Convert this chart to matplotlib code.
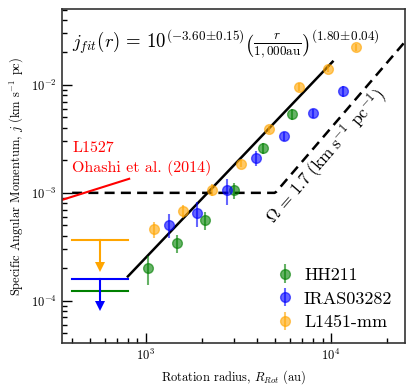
import numpy as np
import matplotlib
matplotlib.use('Agg')
import matplotlib.pyplot as plt

plt.rcParams['font.family'] = 'serif'
plt.rcParams['font.serif'] = ['cmr10', 'DejaVu Serif']
plt.rcParams['mathtext.fontset'] = 'cm'
plt.rcParams['axes.formatter.use_mathtext'] = True
plt.rcParams['axes.unicode_minus'] = False

# HH211
hh_r = [1025, 1472, 2085, 2995, 4285, 6150]
hh_j = [2.0e-4, 3.42e-4, 5.58e-4, 1.06e-3, 2.6e-3, 5.36e-3]
hh_err = [0.6e-4, 0.65e-4, 1.1e-4, 1.8e-4, 0.3e-3, 0.6e-3]

# IRAS03282
ir_r = [1330, 1900, 2730, 3935, 5600, 8020, 11560]
ir_j = [5.09e-4, 6.53e-4, 1.06e-3, 2.11e-3, 3.35e-3, 5.47e-3, 8.8e-3]
ir_err = [1.3e-4, 1.7e-4, 2.8e-4, 0.35e-3, 0.3e-3, 0.5e-3, 1.0e-3]

# L1451-mm
l1_r = [1109, 1578, 2265, 3266, 4642, 6714, 9594, 13650]
l1_j = [4.61e-4, 6.81e-4, 1.07e-3, 1.87e-3, 3.89e-3, 9.64e-3, 1.41e-2, 2.23e-2]
l1_err = [0.8e-4, 0.9e-4, 1.4e-4, 0.15e-3, 0.3e-3, 0.8e-3, 0.8e-3, 1.8e-3]

# upper limits (inner range 400-800 au)
lim_r = [400, 800]
lim_j = {'orange': 3.65e-4, 'blue': 1.58e-4, 'green': 1.22e-4}
lim_tip = {'orange': 2.05e-4, 'blue': 8.9e-5}

# L1527, Ohashi et al. (2014)
l1527_r = [330, 813]
l1527_j = [8.3e-4, 1.35e-3]

# fit: log j = -3.60 + 1.80 log(r/1000au)
fit_a, fit_b = -3.60, 1.80
fit_range = [800, 10200]

omega = 1.7  # km/s/pc
j_floor = 1e-3

fig = plt.figure(figsize=(4.15, 3.9), dpi=100)
ax = fig.add_axes([0.149, 0.1205, 0.827, 0.8565])

for r, j, e, c, lab in [(hh_r, hh_j, hh_err, 'green', 'HH211'),
                        (ir_r, ir_j, ir_err, 'blue', 'IRAS03282'),
                        (l1_r, l1_j, l1_err, 'orange', 'L1451-mm')]:
    ax.errorbar(r, j, yerr=e, fmt='o', color=c, ms=7, elinewidth=1.5,
                alpha=0.6, label=lab, zorder=3)

# fit line
rf = np.logspace(np.log10(fit_range[0]), np.log10(fit_range[1]), 50)
ax.plot(rf, 10**fit_a*(rf/1000.)**fit_b, 'k-', lw=1.8, zorder=2)

# solid body rotation limit
rd = np.logspace(np.log10(400), np.log10(26000), 200)
jd = np.maximum(j_floor, omega*(rd/206265.)**2)
ax.plot(rd, jd, 'k--', lw=1.8, dashes=(4, 2.5), zorder=2)

# L1527
ax.plot(l1527_r, l1527_j, color='red', lw=1.5, zorder=2)
ax.text(400, 1.43e-3, 'L1527\nOhashi et al. (2014)', color='red',
        fontsize=11.5, va='bottom', ha='left', linespacing=1.45)

# upper limits
rc = np.sqrt(lim_r[0]*lim_r[1])
for c in ['orange', 'green', 'blue']:
    ax.plot(lim_r, [lim_j[c]]*2, color=c, lw=1.5)
    if c in lim_tip:
        ax.plot([rc, rc], [lim_j[c], lim_tip[c]*1.05], color=c, lw=1.5)
        ax.plot(rc, lim_tip[c], marker='v', color=c, ms=7, mew=0,
                linestyle='none')

ax.text(400, 2.4e-2,
        r'$j_{fit}(r)\,=\,10^{(-3.60\!\pm\!0.15)}\left(\frac{r}{1,000\mathrm{au}}\right)^{(1.80\!\pm\!0.04)}$',
        fontsize=13.5, ha='left', va='center')

ax.text(9500, 2.15e-3, r'$\Omega\,=\,1.7\;(\mathrm{km\;s^{-1}\;\,pc^{-1}})$',
        fontsize=12.5, rotation=49, ha='center', va='center')

ax.set_xscale('log')
ax.set_yscale('log')
ax.set_xlim(352, 25100)
ax.set_ylim(4.06e-5, 5.06e-2)
ax.set_xlabel(r'Rotation radius, $R_{Rot}$ (au)', fontsize=9)
ax.set_ylabel(r'Specific Angular Momentum, $j$ (km s$^{-1}$ pc)', fontsize=9)
ax.tick_params(which='both', direction='in', labelsize=9)
ax.tick_params(which='major', length=7, width=1)
ax.tick_params(which='minor', length=3.5, width=1)
for s in ax.spines.values():
    s.set_linewidth(1.2)
    s.set_color('#333333')

ax.legend(loc='lower right', frameon=False, fontsize=13, handletextpad=0.25,
          labelspacing=0.45, borderaxespad=0.3, handlelength=1.6)

fig.savefig('out.png', dpi=100)
